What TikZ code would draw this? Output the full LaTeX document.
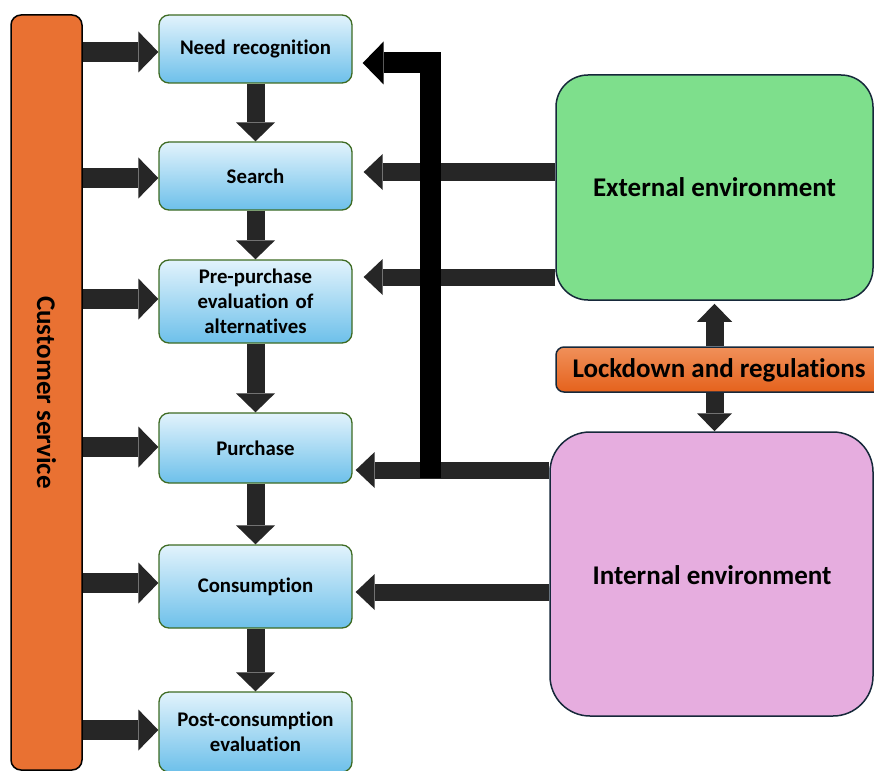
\documentclass[tikz,border=0pt]{standalone}
\usepackage{fontspec}
\setmainfont{Carlito}[Ligatures=NoCommon]
\usetikzlibrary{arrows.meta}

\definecolor{csorange}{HTML}{E97132}
\definecolor{lockA}{HTML}{F0905A}
\definecolor{lockB}{HTML}{E5621C}
\definecolor{bluetop}{HTML}{E2F3FC}
\definecolor{bluebot}{HTML}{6DC0EA}
\definecolor{stageedge}{HTML}{3E6B23}
\definecolor{navyedge}{HTML}{16283A}
\definecolor{extgreen}{HTML}{7EDF8C}
\definecolor{intpink}{HTML}{E6ADDF}
\definecolor{arrowgray}{HTML}{262626}

\begin{document}
\begin{tikzpicture}[x=1pt,y=-1pt,
  stage/.style={draw=stageedge, line width=1.3pt, rounded corners=10pt,
    top color=bluetop, bottom color=bluebot, minimum width=193pt,
    text width=188pt, align=center, inner sep=0pt,
    font=\bfseries\fontsize{20.8}{25}\selectfont},
  bigtext/.style={font=\bfseries\fontsize{27}{32}\selectfont},
  envbox/.style={draw=navyedge, line width=1.5pt, inner sep=0pt, align=center},
  blockr/.style={draw=arrowgray, line width=20pt,
    -{Triangle[width=41pt,length=20pt,line width=0pt]}},
  blockd/.style={draw=arrowgray, line width=18pt,
    -{Triangle[width=39pt,length=19pt,line width=0pt]}},
  blockl/.style={draw=arrowgray, line width=17pt,
    -{Triangle[width=36pt,length=19pt,line width=0pt]}},
  blockv/.style={draw=arrowgray, line width=18pt,
    -{Triangle[width=35pt,length=18pt,line width=0pt]}},
  feedback/.style={draw=black, line width=21pt, line join=miter,
    -{Triangle[width=43pt,length=21pt,line width=0pt]}}
]
\clip (0,0) rectangle (874,770);

% customer service bar
\node[draw=black, line width=1.5pt, fill=csorange, rounded corners=10pt,
  minimum width=71pt, minimum height=755pt, inner sep=0pt] (cs) at (46.5,392.5) {};
\node[rotate=-90, bigtext] (cslabel) at (cs.center) {Customer service};

% decision stages
\node[stage, minimum height=68pt] (need) at (255.5,49) {Need recognition};
\node[stage, minimum height=68pt] (search) at (255.5,176) {Search};
\node[stage, minimum height=83pt] (pre) at (255.5,301.5) {Pre-purchase\\evaluation of\\alternatives};
\node[stage, minimum height=70pt] (purchase) at (255.5,448) {Purchase};
\node[stage, minimum height=83pt] (consume) at (255.5,586.5) {Consumption};
\node[stage, minimum height=80pt] (post) at (255.5,732) {Post-consumption\\evaluation};

% environment blocks
\node[envbox, fill=extgreen, rounded corners=32pt, minimum width=317pt,
  minimum height=225pt, bigtext] (ext) at (714.5,187.5) {External environment};
\node[envbox, rounded corners=8pt, top color=lockA, bottom color=lockB,
  minimum width=328pt, minimum height=45pt] (lock) at (720,369.5) {};
\node[bigtext] (locklabel) at (719,370) {Lockdown and regulations};
\node[envbox, fill=intpink, rounded corners=40pt, minimum width=323pt,
  minimum height=284pt] (int) at (711.5,574) {};
\node[bigtext] (intlabel) at (712,575) {Internal environment};

% customer service feeds every stage
\draw[blockr] (cs.east |- 0,52) -- (need.west |- 0,52);
\draw[blockr] (cs.east |- 0,178) -- (search.west |- 0,178);
\draw[blockr] (cs.east |- 0,299) -- (pre.west |- 0,299);
\draw[blockr] (cs.east |- 0,447) -- (purchase.west |- 0,447);
\draw[blockr] (cs.east |- 0,583) -- (consume.west |- 0,583);
\draw[blockr] (cs.east |- 0,730) -- (post.west |- 0,730);

% stage sequence
\draw[blockd] (need.south) -- (search.north);
\draw[blockd] (search.south) -- (pre.north);
\draw[blockd] (pre.south) -- (purchase.north);
\draw[blockd] (purchase.south) -- (consume.north);
\draw[blockd] (consume.south) -- (post.north);

% environment influences
\draw[blockl, shorten >=11pt] (ext.west |- 0,172) -- (search.east |- 0,172);
\draw[blockl, shorten >=11pt] (ext.west |- 0,277) -- (pre.east |- 0,277);
\draw[blockl, shorten >=3pt] (int.west |- 0,470) -- (purchase.east |- 0,470);
\draw[blockl, shorten >=3pt] (int.west |- 0,592) -- (consume.east |- 0,592);

% feedback loop back to need recognition
\coordinate (loopfoot) at (430,478);
\draw[feedback, shorten >=10pt] (loopfoot) |- (need.east |- 0,63);

% lockdown acts on both environments
\draw[blockv, shorten >=3pt] (ext.south |- lock.north) -- (ext.south);
\draw[blockv] (ext.south |- lock.south) -- (ext.south |- int.north);
\end{tikzpicture}
\end{document}
